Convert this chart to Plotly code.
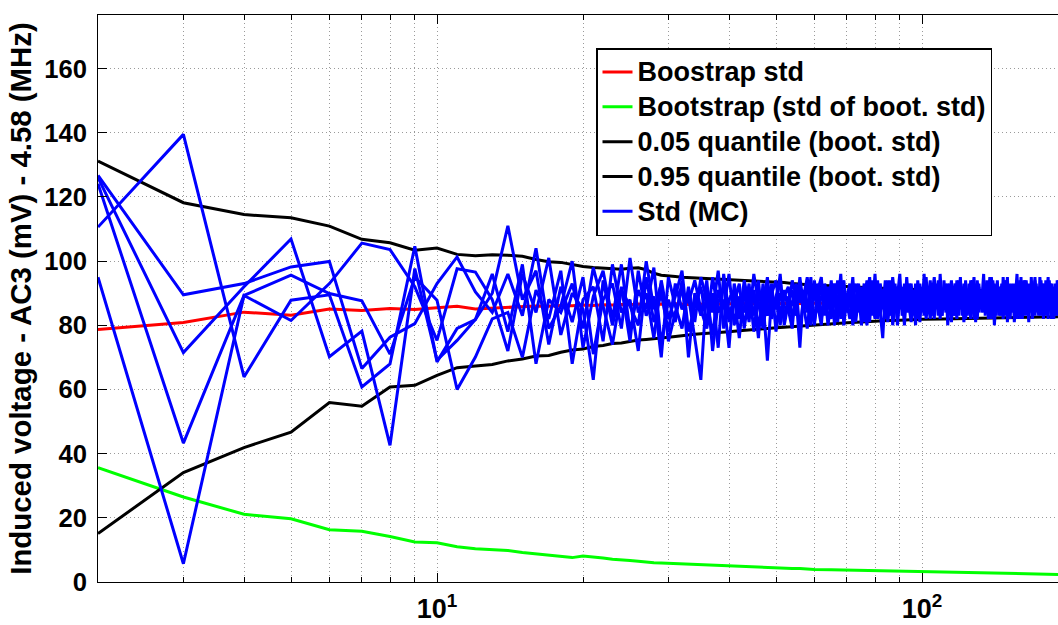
import numpy as np
import plotly.graph_objects as go

# Sample sizes for the smooth bootstrap curves
n_smooth = list(range(2, 41)) + list(range(42, 61, 2)) + [65, 70, 75, 80, 85, 90, 95, 100,
                                                          110, 120, 130, 140, 150, 160, 170, 180, 190, 200]

boot_std = [78.7, 80.9, 84.1, 83.1, 85.1, 84.6, 85.2, 84.9, 85.5, 85.9, 85.1, 85.4, 85.6, 85.8,
            86.0, 85.9, 86.2, 86.1, 86.3, 86.2, 86.4, 86.3, 86.5, 86.4, 86.6, 86.5, 86.4, 86.6,
            86.5, 86.7, 86.6, 86.5, 86.7, 86.6, 86.8, 86.7, 86.6, 86.8, 86.7,
            86.8, 86.7, 86.9, 86.8, 86.7, 86.9, 86.8, 86.9, 86.8, 86.9,
            86.9, 87.0, 86.9, 87.0, 86.9, 87.0, 87.0, 87.0,
            87.0, 87.1, 87.0, 87.1, 87.0, 87.1, 87.1, 87.1, 87.1, 87.2]

boot_std_of_std = [35.6, 26.5, 21.1, 19.7, 16.3, 15.8, 14.2, 12.5, 12.2, 11.0, 10.4, 10.2, 9.8,
                   9.2, 8.8, 8.4, 7.9, 7.6, 8.1, 7.9, 7.5, 7.1, 6.8, 6.7, 6.5, 6.2, 6.0, 5.9,
                   5.8, 5.8, 5.6, 5.6, 5.5, 5.4, 5.4, 5.2, 5.1, 5.0, 5.0,
                   4.9, 4.7, 4.6, 4.5, 4.4, 4.3, 4.2, 4.2, 4.0, 3.9,
                   3.8, 3.7, 3.5, 3.4, 3.4, 3.3, 3.3, 3.2,
                   3.0, 2.9, 2.8, 2.7, 2.6, 2.6, 2.5, 2.4, 2.4, 2.3]

q05 = [15.1, 34.1, 41.9, 46.7, 55.9, 54.8, 60.8, 61.3, 64.4, 66.8, 67.3, 67.8, 68.9, 69.5,
       70.4, 70.6, 71.6, 72.3, 72.6, 73.4, 73.7, 74.3, 74.5, 75.0, 75.4, 75.6, 75.9, 76.2,
       76.3, 76.5, 76.8, 77.0, 77.2, 77.4, 77.5, 77.6, 77.8, 77.8, 78.0,
       78.3, 78.6, 78.8, 79.0, 79.2, 79.4, 79.6, 79.8, 79.9, 80.1,
       80.4, 80.8, 81.0, 81.3, 81.5, 81.6, 81.8, 81.9,
       82.0, 82.1, 82.2, 82.3, 82.4, 82.5, 82.5, 82.6, 82.6, 82.7]

q95 = [131.2, 118.2, 114.5, 113.5, 110.9, 106.8, 105.7, 103.4, 104.1, 102.1, 101.7, 102.0,
       101.8, 101.5, 100.5, 99.8, 99.6, 98.9, 98.3, 98.0, 97.8, 97.6, 97.5, 97.8, 97.9, 97.3,
       96.2, 95.6, 95.3, 95.2, 95.0, 94.9, 94.8, 94.8, 94.6, 94.6, 94.5, 94.3, 94.2,
       94.1, 94.0, 93.8, 93.7, 93.5, 93.3, 93.0, 92.8, 92.6, 92.5,
       92.3, 92.0, 91.8, 91.6, 91.5, 91.3, 91.2, 91.1,
       91.0, 90.9, 91.0, 90.9, 90.8, 90.8, 90.7, 90.6, 90.6, 90.5]

# Monte Carlo standard deviation, five independent runs, n = 2 .. 200
n_mc = list(range(2, 201))

mc_run1 = [110.6, 139.5, 63.9, 87.8, 89.5, 60.8, 68, 104.6, 68.6, 79, 81.8, 90,
           111, 88, 97, 74, 92, 81, 95, 71, 88, 93,
           79, 101, 84, 90, 76, 94, 82, 89, 97, 78,
           86, 92, 80, 95, 84, 88, 73, 93, 85, 90,
           81, 96, 87, 79, 92, 84, 89, 94, 80, 87,
           91, 83, 95, 86, 79, 90, 88, 93, 82, 89,
           85, 94, 80, 88, 92, 84, 90, 86, 95, 81,
           89, 87, 93, 83, 90, 85, 96, 82, 88, 91,
           84, 89, 94, 80, 87, 92, 85, 90, 83, 95,
           86, 81, 91, 88, 84, 93, 87, 90, 82, 89,
           94, 85, 88, 91, 83, 96, 86, 89, 84, 92,
           87, 81, 90, 93, 85, 88, 95, 83, 89, 86,
           91, 84, 94, 87, 82, 90, 88, 93, 85, 89,
           96, 83, 87, 91, 84, 89, 92, 80, 88, 94,
           86, 90, 83, 95, 87, 85, 91, 88, 82, 93,
           89, 84, 90, 96, 86, 88, 83, 92, 87, 85,
           94, 89, 81, 90, 86, 93, 84, 88, 91, 87,
           83, 95, 88, 85, 90, 92, 84, 89, 86, 94,
           87, 82, 91, 88, 93, 85, 90, 86, 89, 84,
           92, 87, 90, 85, 88, 93, 86]

mc_run2 = [95.0, 5.7, 89.3, 81.5, 93.0, 105.6, 103.6, 92, 75.3, 97.6, 96.6, 88,
           72, 96, 84, 101, 77, 90, 85, 63, 94, 80,
           92, 75, 97, 83, 89, 70, 95, 86, 79, 92,
           81, 95, 88, 77, 91, 85, 96, 80, 89, 84,
           93, 78, 90, 86, 95, 82, 88, 80, 91, 85,
           79, 93, 87, 90, 84, 95, 81, 88, 92, 85,
           90, 83, 87, 94, 82, 89, 85, 92, 80, 88,
           93, 84, 90, 86, 81, 94, 87, 89, 84, 76,
           91, 86, 83, 95, 88, 82, 90, 85, 93, 87,
           84, 92, 88, 80, 94, 86, 89, 83, 91, 87,
           82, 90, 95, 85, 88, 84, 91, 87, 93, 80,
           89, 94, 86, 83, 91, 88, 85, 92, 81, 90,
           87, 93, 84, 89, 95, 86, 82, 90, 88, 84,
           91, 87, 94, 82, 88, 90, 85, 93, 86, 89,
           83, 92, 88, 85, 90, 94, 81, 89, 87, 91,
           85, 93, 87, 82, 90, 88, 95, 84, 89, 86,
           91, 84, 93, 87, 89, 82, 90, 95, 85, 88,
           92, 86, 83, 91, 88, 85, 94, 87, 82, 90,
           89, 93, 85, 88, 84, 91, 87, 94, 83, 90,
           86, 89, 84, 92, 87, 90, 85]

mc_run3 = [124.1, 43.3, 89.3, 95.6, 89.9, 87.6, 71, 95, 87.8, 60, 70.1, 82,
           84, 70, 91, 82, 97, 68, 88, 92, 75, 99,
           84, 88, 72, 95, 81, 90, 78, 93, 85, 89,
           76, 63, 92, 84, 97, 79, 88, 91, 82, 94,
           86, 89, 76, 93, 83, 90, 85, 96, 81, 89,
           86, 92, 78, 89, 95, 83, 90, 86, 80, 93,
           88, 82, 91, 85, 96, 80, 89, 93, 86, 84,
           91, 80, 88, 94, 85, 87, 82, 92, 89, 85,
           94, 81, 88, 90, 84, 92, 86, 89, 80, 91,
           88, 93, 83, 90, 86, 81, 92, 85, 95, 84,
           90, 87, 82, 93, 86, 89, 83, 92, 88, 85,
           93, 84, 88, 90, 82, 94, 87, 85, 91, 89,
           83, 90, 88, 85, 92, 81, 94, 87, 89, 86,
           88, 92, 84, 90, 95, 83, 87, 89, 91, 85,
           90, 86, 93, 82, 89, 87, 95, 84, 91, 88,
           92, 81, 88, 90, 85, 94, 86, 89, 83, 91,
           86, 90, 88, 84, 95, 87, 91, 83, 89, 92,
           88, 84, 90, 93, 82, 89, 86, 91, 95, 85,
           91, 86, 89, 82, 90, 88, 93, 84, 87, 92,
           84, 91, 88, 86, 93, 82, 89]

mc_run4 = [126.7, 89.5, 93.0, 98.2, 99.9, 66.5, 76.3, 80.5, 93, 101.3, 90.4, 84,
           96, 83, 104, 79, 86, 100, 73, 89, 97, 82,
           99, 78, 91, 85, 98, 74, 88, 81, 94, 70,
           90, 83, 94, 72, 87, 92, 81, 89, 76, 92,
           84, 91, 79, 88, 69, 90, 94, 83, 89, 92,
           82, 88, 91, 84, 93, 86, 80, 91, 95, 83,
           92, 86, 89, 81, 90, 94, 84, 87, 91, 85,
           86, 92, 81, 89, 95, 83, 90, 87, 93, 88,
           82, 94, 87, 91, 85, 89, 96, 83, 88, 84,
           91, 87, 85, 93, 82, 90, 84, 96, 86, 92,
           88, 83, 91, 87, 94, 82, 90, 85, 88, 93,
           84, 91, 87, 85, 94, 83, 90, 88, 93, 82,
           89, 86, 91, 94, 85, 88, 83, 92, 86, 90,
           84, 93, 89, 86, 91, 82, 94, 87, 83, 90,
           92, 85, 88, 90, 83, 92, 86, 93, 89, 84,
           87, 91, 85, 89, 93, 82, 90, 86, 94, 88,
           83, 92, 86, 91, 84, 90, 88, 85, 93, 86,
           90, 88, 94, 84, 86, 91, 83, 92, 88, 87,
           93, 84, 90, 87, 85, 92, 89, 83, 91, 88,
           90, 85, 93, 88, 84, 91, 87]

mc_run5 = [126.0, 71.5, 92.0, 106.9, 70.2, 78.2, 42.6, 97.7, 69.1, 75.3, 81.8, 96,
           78, 99, 68, 88, 84, 93, 79, 98, 86, 74,
           91, 86, 80, 100, 85, 93, 75, 84, 91, 87,
           94, 85, 79, 90, 73, 96, 84, 87, 93, 79,
           90, 83, 94, 80, 87, 93, 78, 90, 86, 84,
           94, 89, 73, 91, 87, 80, 94, 84, 89, 91,
           80, 88, 93, 86, 84, 91, 87, 82, 90, 93,
           84, 90, 86, 80, 92, 89, 85, 94, 83, 90,
           88, 91, 84, 86, 93, 80, 89, 92, 85, 88,
           93, 84, 90, 87, 91, 83, 88, 92, 85, 90,
           86, 93, 84, 89, 90, 87, 83, 94, 86, 89,
           90, 86, 83, 92, 88, 85, 91, 87, 84, 94,
           85, 89, 82, 90, 88, 93, 87, 84, 91, 88,
           86, 90, 85, 93, 87, 95, 89, 84, 92, 86,
           88, 83, 91, 87, 94, 85, 89, 83, 90, 86,
           91, 88, 84, 93, 89, 86, 90, 82, 88, 94,
           89, 86, 83, 90, 87, 92, 85, 94, 88, 84,
           91, 87, 85, 89, 93, 84, 90, 86, 91, 88,
           85, 90, 92, 86, 89, 83, 94, 87, 85, 90,
           88, 93, 86, 90, 84, 89, 92]

mc_runs = [mc_run1, mc_run2, mc_run3, mc_run4, mc_run5]

y_ticks = [0, 20, 40, 60, 80, 100, 120, 140, 160]
x_major = [10, 100]
x_major_text = ["10<sup>1</sup>", "10<sup>2</sup>"]
x_minor = [2, 3, 4, 5, 6, 7, 8, 9, 20, 30, 40, 50, 60, 70, 80, 90, 200]

FONT = "Liberation Sans, Arial, Helvetica, sans-serif"
GRID = "#9a9a9a"
LW = 3


def legend_label(text):
    # legend rows are spaced from the base legend font; the label itself is drawn larger
    return "<span style='font-size:27px'>%s</span>" % text


fig = go.Figure()
fig.add_trace(go.Scatter(x=n_smooth, y=boot_std, mode="lines", name=legend_label("Boostrap std"),
                         line=dict(color="#ff0000", width=LW)))
fig.add_trace(go.Scatter(x=n_smooth, y=boot_std_of_std, mode="lines",
                         name=legend_label("Bootstrap (std of boot. std)"),
                         line=dict(color="#00ff00", width=LW)))
fig.add_trace(go.Scatter(x=n_smooth, y=q05, mode="lines",
                         name=legend_label("0.05 quantile (boot. std)"),
                         line=dict(color="#000000", width=LW)))
fig.add_trace(go.Scatter(x=n_smooth, y=q95, mode="lines",
                         name=legend_label("0.95 quantile (boot. std)"),
                         line=dict(color="#000000", width=LW)))
for i, run in enumerate(mc_runs):
    fig.add_trace(go.Scatter(x=n_mc, y=run, mode="lines", name=legend_label("Std (MC)"),
                             showlegend=(i == 0), legendgroup="mc",
                             line=dict(color="#0000ff", width=LW)))

x_lo = np.log10(2)
x_hi = x_lo + 960 / 485.0

fig.update_layout(
    width=1058, height=625,
    margin=dict(l=98, r=0, t=15, b=43),
    paper_bgcolor="white", plot_bgcolor="white",
    font=dict(family=FONT, size=26, color="black", weight="bold"),
    showlegend=True,
    legend=dict(x=(596 - 98) / 960.0, y=(582 - 48) / 567.0, xanchor="left", yanchor="top",
                bgcolor="white", bordercolor="black", borderwidth=1.5,
                font=dict(family=FONT, size=24.5, color="black", weight="bold"),
                itemwidth=30, tracegroupgap=0),
)

fig.update_xaxes(
    type="log", range=[x_lo, x_hi],
    tickmode="array", tickvals=x_major, ticktext=x_major_text,
    ticks="inside", ticklen=9, tickwidth=1, tickcolor="black",
    showline=True, linecolor="black", linewidth=1, mirror="allticks",
    showgrid=True, gridcolor=GRID, gridwidth=1, griddash="1px,3px",
    minor=dict(tickmode="array", tickvals=x_minor, ticks="inside", ticklen=5,
               tickcolor="black", showgrid=True, gridcolor=GRID, gridwidth=1,
               griddash="1px,3px"),
    zeroline=False, ticklabelstandoff=3,
    tickfont=dict(family=FONT, size=27, color="black", weight="bold"),
)

fig.update_yaxes(
    range=[0, 176.7],
    tickmode="array", tickvals=y_ticks,
    ticks="inside", ticklen=9, tickwidth=1, tickcolor="black",
    showline=True, linecolor="black", linewidth=1, mirror=False,
    showgrid=True, gridcolor=GRID, gridwidth=1, griddash="1px,3px",
    zeroline=False, ticklabelstandoff=5,
    tickfont=dict(family=FONT, size=25.6, color="black", weight="bold"),
    title=dict(text="Induced voltage - AC3 (mV) - 4.58 (MHz)",
               font=dict(family=FONT, size=29.4, color="black", weight="bold"),
               standoff=3),
)

fig.write_html("out.html")
